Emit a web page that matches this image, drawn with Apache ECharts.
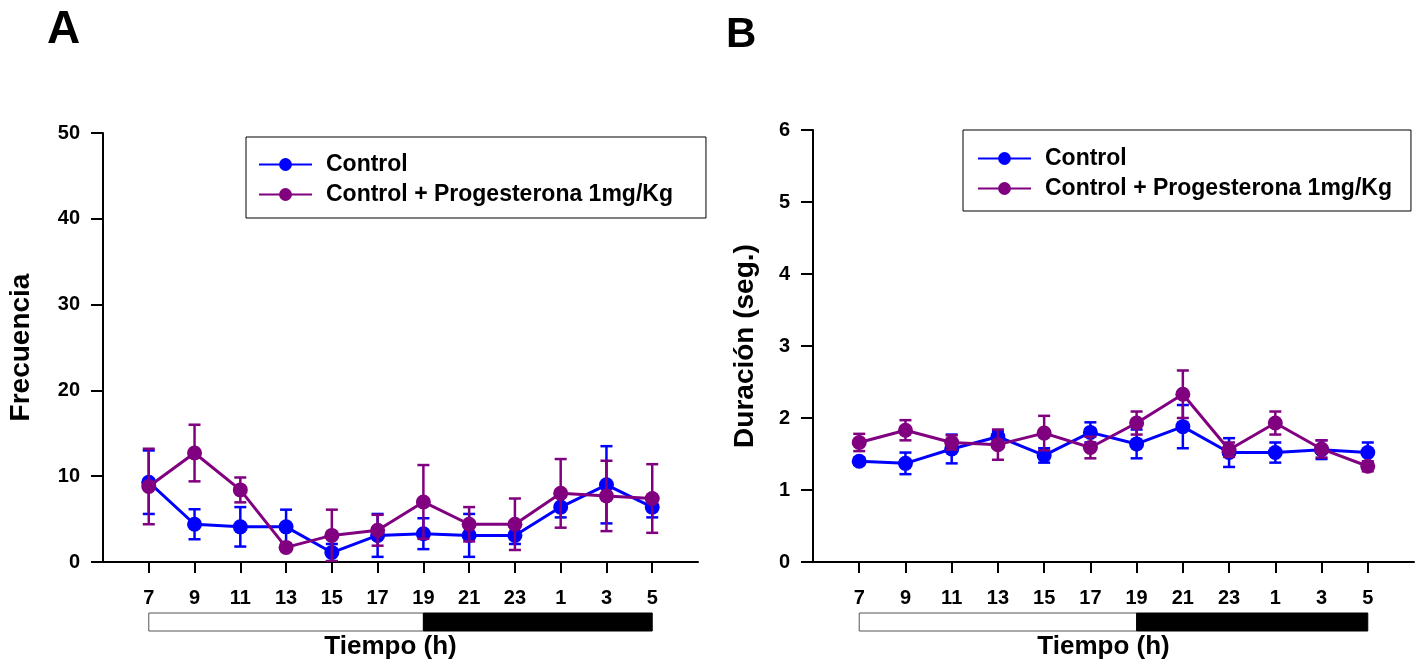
<!DOCTYPE html>
<html>
<head>
<meta charset="utf-8">
<script src="https://cdn.jsdelivr.net/npm/echarts@6/dist/echarts.min.js"></script>
<style>
html,body{margin:0;padding:0;background:#fff;}
#c{width:1419px;height:667px;}
</style>
</head>
<body>
<div id="c"></div>
<script>
// ---- data ----
const hours = ['7','9','11','13','15','17','19','21','23','1','3','5'];
const seriesNames = ['Control', 'Control + Progesterona 1mg/Kg'];
// Panel A: Frecuencia (mean, SEM)
const freqControl    = [9.3, 4.4, 4.1, 4.1, 1.1, 3.1, 3.3, 3.1, 3.1, 6.4, 9.0, 6.4];
const freqControlErr = [3.7, 1.75, 2.3, 2.0, 1.0, 2.5, 1.8, 2.5, 1.0, 1.2, 4.5, 1.2];
const freqProg       = [8.8, 12.7, 8.4, 1.7, 3.1, 3.7, 7.0, 4.4, 4.4, 8.0, 7.7, 7.4];
const freqProgErr    = [4.4, 3.3, 1.45, 0.4, 3.0, 1.8, 4.3, 2.0, 3.0, 4.0, 4.1, 4.0];
// Panel B: Duración (seg.) (mean, SEM)
const durControl     = [1.40, 1.37, 1.57, 1.74, 1.48, 1.80, 1.64, 1.88, 1.52, 1.52, 1.56, 1.52];
const durControlErr  = [0.05, 0.15, 0.20, 0.08, 0.10, 0.14, 0.20, 0.30, 0.20, 0.14, 0.13, 0.14];
const durProg        = [1.66, 1.83, 1.66, 1.63, 1.79, 1.59, 1.93, 2.33, 1.56, 1.93, 1.57, 1.33];
const durProgErr     = [0.12, 0.14, 0.10, 0.21, 0.24, 0.15, 0.16, 0.33, 0.10, 0.16, 0.12, 0.07];
// light / dark phases (start index, end index)
const phases = [[0, 6, 'light'], [6, 11, 'dark']];
const yTicksA = {min: 0, max: 50, interval: 10};
const yTicksB = {min: 0, max: 6, interval: 1};

// ---- chart ----
const FONT = '"Liberation Sans", Arial, Helvetica, sans-serif';
const BLUE = '#0000FF';
const PURPLE = '#800080';
const idx = hours.map((h, i) => i);

function xAxisDef(gridIndex) {
  return {
    type: 'value', gridIndex: gridIndex, min: -1, max: 12, interval: 1,
    axisLine: {show: true, onZero: false, lineStyle: {color: '#000', width: 2}},
    axisTick: {show: true, customValues: idx, length: 11, lineStyle: {color: '#000', width: 2}},
    axisLabel: {customValues: idx, formatter: v => hours[v] ?? '', margin: 26,
      fontFamily: FONT, fontWeight: 'bold', fontSize: 20, color: '#000'},
    splitLine: {show: false},
    name: 'Tiempo (h)', nameLocation: 'middle', nameGap: 72,
    nameTextStyle: {fontFamily: FONT, fontWeight: 'bold', fontSize: 26, color: '#000', padding: [0, 20, 0, 0]}
  };
}
function yAxisDef(gridIndex, t, name, gap) {
  return {
    type: 'value', gridIndex: gridIndex, min: t.min, max: t.max, interval: t.interval,
    axisLine: {show: true, onZero: false, lineStyle: {color: '#000', width: 2}},
    axisTick: {show: true, length: 12, lineStyle: {color: '#000', width: 2}},
    axisLabel: {margin: 23, fontFamily: FONT, fontWeight: 'bold', fontSize: 20, color: '#000'},
    splitLine: {show: false},
    name: name, nameLocation: 'middle', nameGap: gap, nameRotate: 90,
    nameTextStyle: {fontFamily: FONT, fontWeight: 'bold', fontSize: 28, color: '#000'}
  };
}
function lineSeries(name, vals, color, gi, z) {
  return {
    type: 'line', name: name, xAxisIndex: gi, yAxisIndex: gi, z: z,
    data: vals.map((v, i) => [i, v]),
    symbol: 'circle', symbolSize: 15, showSymbol: true,
    itemStyle: {color: color}, lineStyle: {color: color, width: 3},
    emphasis: {disabled: true}
  };
}
function errSeries(vals, errs, color, gi, z) {
  return {
    type: 'custom', xAxisIndex: gi, yAxisIndex: gi, z: z, clip: true, silent: true,
    data: vals.map((v, i) => [i, v, errs[i]]),
    encode: {x: 0, y: 1},
    renderItem: function (params, api) {
      const x = api.value(0), m = api.value(1), s = api.value(2);
      const top = api.coord([x, m + s]);
      const bot = api.coord([x, m - s]);
      const hw = 6;
      const st = {stroke: color, lineWidth: 2.5};
      return {type: 'group', children: [
        {type: 'line', shape: {x1: top[0], y1: top[1], x2: bot[0], y2: bot[1]}, style: st},
        {type: 'line', shape: {x1: top[0] - hw, y1: top[1], x2: top[0] + hw, y2: top[1]}, style: st},
        {type: 'line', shape: {x1: bot[0] - hw, y1: bot[1], x2: bot[0] + hw, y2: bot[1]}, style: st}
      ]};
    }
  };
}
function phaseSeries(gi) {
  return {
    type: 'custom', xAxisIndex: gi, yAxisIndex: gi, clip: false, silent: true, z: 1,
    data: phases.map(p => [p[0], p[1], 0, p[2]]),
    encode: {x: [0, 1], y: 2},
    renderItem: function (params, api) {
      const a = api.coord([api.value(0), 0]);
      const b = api.coord([api.value(1), 0]);
      const dark = phases[params.dataIndex][2] === 'dark';
      return {type: 'rect',
        shape: {x: a[0], y: a[1] + 51, width: b[0] - a[0], height: 18},
        style: {fill: dark ? '#000' : '#fff', stroke: dark ? '#000' : '#555', lineWidth: 1}};
    }
  };
}
function legendDef(left, top, padding) {
  return {
    orient: 'vertical', left: left, top: top, padding: padding,
    itemWidth: 53, itemHeight: 16, itemGap: 7,
    borderColor: '#000', borderWidth: 1, backgroundColor: '#fff',
    textStyle: {fontFamily: FONT, fontWeight: 'bold', fontSize: 23, color: '#000', padding: [0, 0, 0, 9]},
    data: seriesNames, selectedMode: false
  };
}

const chart = echarts.init(document.getElementById('c'), null, {renderer: 'canvas'});
chart.setOption({
  animation: false,
  backgroundColor: '#fff',
  title: [
    {text: 'A', left: 47, top: 7, padding: 0, textStyle: {fontFamily: FONT, fontWeight: 'bold', fontSize: 46, color: '#000'}},
    {text: 'B', left: 726, top: 14, padding: 0, textStyle: {fontFamily: FONT, fontWeight: 'bold', fontSize: 42, color: '#000'}}
  ],
  legend: [
    legendDef(246, 137, [16, 33, 12, 12]),
    legendDef(963, 130, [17, 19, 11, 14])
  ],
  grid: [
    {left: 103, top: 133, width: 595, height: 429, outerBoundsMode: 'none'},
    {left: 813, top: 130, width: 601, height: 432, outerBoundsMode: 'none'}
  ],
  xAxis: [xAxisDef(0), xAxisDef(1)],
  yAxis: [yAxisDef(0, yTicksA, 'Frecuencia', 68), yAxisDef(1, yTicksB, 'Duración (seg.)', 54)],
  series: [
    phaseSeries(0), phaseSeries(1),
    errSeries(freqControl, freqControlErr, BLUE, 0, 2),
    lineSeries(seriesNames[0], freqControl, BLUE, 0, 3),
    errSeries(freqProg, freqProgErr, PURPLE, 0, 4),
    lineSeries(seriesNames[1], freqProg, PURPLE, 0, 5),
    errSeries(durControl, durControlErr, BLUE, 1, 2),
    lineSeries(seriesNames[0], durControl, BLUE, 1, 3),
    errSeries(durProg, durProgErr, PURPLE, 1, 4),
    lineSeries(seriesNames[1], durProg, PURPLE, 1, 5)
  ]
});
</script>
</body>
</html>
